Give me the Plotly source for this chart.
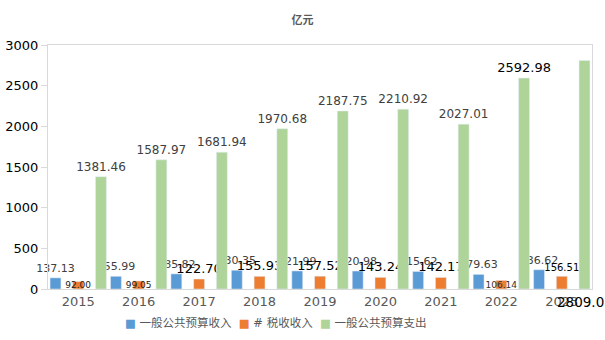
import plotly.graph_objects as go

# 年度一般公共预算数据（亿元）
years = ["2015", "2016", "2017", "2018", "2019", "2020", "2021", "2022", "2023"]
budget_income = [137.13, 155.99, 185.82, 230.35, 221.99, 220.98, 215.62, 179.63, 236.62]
tax_income = [92.00, 99.05, 122.70, 155.93, 157.52, 143.24, 142.17, 106.14, 156.51]
budget_spending = [1381.46, 1587.97, 1681.94, 1970.68, 2187.75, 2210.92, 2027.01, 2592.98, 2809.03]
y_ticks = [0, 500, 1000, 1500, 2000, 2500, 3000]
series_names = ["一般公共预算收入", "# 税收收入", "一般公共预算支出"]

FONT = "DejaVu Sans, Noto Sans CJK SC, sans-serif"
BLUE, ORANGE, GREEN = "#5B9BD5", "#ED7D31", "#AED49A"
GREY = "#404040"

W, H = 605, 340
L, R, T, B = 48, 13, 45, 51
plot_w, plot_h = W - L - R, H - T - B

bar_w = 0.18
shift = 0.376  # distance of side bars from the category centre

fig = go.Figure()

fig.add_bar(
    name=series_names[0], x=years, y=budget_income,
    width=bar_w, offset=-shift - bar_w / 2, marker_color=BLUE,
    text=[f"{v:.2f}" for v in budget_income], textposition="outside",
    textfont=dict(size=11, color=GREY, family=FONT),
    cliponaxis=False, textangle=0, constraintext="none",
)

# small tax values sit on the bar, the rest are printed larger above it
tax_pos = ["inside", "inside", "outside", "outside", "outside",
           "outside", "outside", "inside", "outside"]
tax_size = [9, 9, 13, 13, 13, 13, 13, 9, 10]
tax_color = ["#202020", "#202020", "black", "black", "black",
             "black", "black", "#303030", "black"]
fig.add_bar(
    name=series_names[1], x=years, y=tax_income,
    width=bar_w, offset=-bar_w / 2, marker_color=ORANGE,
    text=[f"{v:.2f}" for v in tax_income], textposition=tax_pos,
    insidetextanchor="middle",
    textfont=dict(size=tax_size, color=tax_color, family=FONT),
    cliponaxis=False, textangle=0, constraintext="none",
)

spend_text = [f"{v:.2f}" for v in budget_spending]
spend_text[-1] = ""
spend_size = [12] * 7 + [13, 12]
spend_color = [GREY] * 7 + ["black", GREY]
fig.add_bar(
    name=series_names[2], x=years, y=budget_spending,
    width=bar_w, offset=shift - bar_w / 2, marker_color=GREEN,
    text=spend_text, textposition="outside",
    textfont=dict(size=spend_size, color=spend_color, family=FONT),
    cliponaxis=False, textangle=0, constraintext="none",
)

# the last spending value is printed at the foot of its bar
fig.add_annotation(
    x=len(years) - 1 + shift, y=0, xref="x", yref="y",
    text=f"{budget_spending[-1]:.2f}", showarrow=False,
    yanchor="top", yshift=-3,
    font=dict(size=13.5, color="black", family=FONT),
)

# compact legend row under the axis
sp = "\u00a0"
legend_text = (sp * 2).join(
    f"<span style='color:{c}'>■</span>{sp}{n}"
    for c, n in zip([BLUE, ORANGE, GREEN], series_names)
)
fig.add_annotation(
    x=(276 - L) / plot_w, y=-(323 - (H - B)) / plot_h,
    xref="paper", yref="paper",
    xanchor="center", yanchor="middle", showarrow=False,
    text=legend_text,
    font=dict(size=11.5, color="#595959", family=FONT),
)

fig.update_layout(
    width=W, height=H,
    margin=dict(l=L, r=R, t=T, b=B, autoexpand=False),
    paper_bgcolor="white", plot_bgcolor="white",
    barmode="overlay",
    font=dict(family=FONT),
    title=dict(
        text="<b>亿元</b>", x=0.5, xref="container", xanchor="center",
        y=1 - 20 / H, yref="container", yanchor="middle",
        font=dict(size=11, color="#595959", family=FONT),
    ),
    showlegend=False,
    xaxis=dict(
        type="category", range=[-0.5, len(years) - 0.5],
        showline=True, linecolor="#D9D9D9", linewidth=1, mirror=True,
        ticks="", showgrid=False, automargin=False,
        tickfont=dict(size=13, color="#595959", family=FONT),
    ),
    yaxis=dict(
        range=[0, 3000], tickvals=y_ticks,
        showline=True, linecolor="#D9D9D9", linewidth=1, mirror=True,
        ticks="outside", ticklen=6, tickcolor="#D9D9D9",
        showgrid=False, zeroline=False, automargin=False,
        tickfont=dict(size=13, color="black", family=FONT),
    ),
)

fig.write_html("out.html")
